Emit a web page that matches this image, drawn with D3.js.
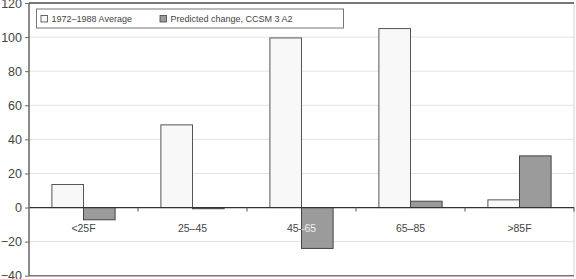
<!DOCTYPE html>
<html><head><meta charset="utf-8">
<script src="https://cdn.jsdelivr.net/npm/d3@7/dist/d3.min.js"></script>
<style>
html,body{margin:0;padding:0;background:#fff;}
svg{display:block;font-family:"Liberation Sans",Arial,sans-serif;}
</style></head>
<body><svg id="c" width="576" height="279"></svg>
<script>
const categories = ["<25F", "25–45", "45–65", "65–85", ">85F"];
const seriesNames = ["1972–1988 Average", "Predicted change, CCSM 3 A2"];
const average = [13.5, 48.5, 99.5, 105, 4.5];
const predicted = [-7.2, -0.7, -24, 3.7, 30.3];
const yTicks = [-40, -20, 0, 20, 40, 60, 80, 100, 120];

const W = 576, H = 279;
const m = {left: 29, right: 2, top: 3, bottom: 3.3};
const svg = d3.select("#c");
const x = d3.scaleBand().domain(categories).range([m.left, W - m.right]).paddingInner(0).paddingOuter(0);
const y = d3.scaleLinear().domain([-40, 120]).range([H - m.bottom, m.top]);
const bw = x.bandwidth() * 0.29;

// gridlines
svg.append("g").selectAll("line").data(yTicks.filter(d => d !== 0 && d !== -40 && d !== 120)).join("line")
  .attr("x1", m.left).attr("x2", W - m.right)
  .attr("y1", d => y(d)).attr("y2", d => y(d))
  .attr("stroke", "#e2e2e2").attr("stroke-width", 1);

// frame right
svg.append("line").attr("x1", W - m.right).attr("x2", W - m.right).attr("y1", y(120)).attr("y2", y(-40))
  .attr("stroke", "#d4d4d4").attr("stroke-width", 1);

// y axis
const yAxis = d3.axisLeft(y).tickValues(yTicks).tickSize(4).tickPadding(3)
  .tickFormat(d => d < 0 ? "−" + Math.abs(d) : d);
const ga = svg.append("g").attr("transform", `translate(${m.left},0)`).call(yAxis);
ga.select(".domain").remove();
ga.selectAll(".tick line").attr("stroke", "#666");
ga.selectAll("text").attr("fill", "#444").style("font-size", "12.5px");

// category labels
const labG = svg.append("g");
labG.selectAll("text").data(categories).join("text")
  .attr("x", d => x(d) + x.bandwidth() / 2).attr("y", y(0) + 24)
  .attr("text-anchor", "middle").attr("fill", "#444").style("font-size", "10.5px")
  .text(d => d);

// bars
const groups = categories.map((c, i) => ({c, i}));
svg.append("g").selectAll("rect").data(groups).join("rect")
  .attr("x", d => x(d.c) + x.bandwidth() / 2 - bw)
  .attr("y", d => y(Math.max(0, average[d.i])))
  .attr("width", bw)
  .attr("height", d => Math.abs(y(average[d.i]) - y(0)))
  .attr("fill", "#f8f8f8").attr("stroke", "#555").attr("stroke-width", 1);

svg.append("g").selectAll("rect").data(groups).join("rect")
  .attr("x", d => x(d.c) + x.bandwidth() / 2)
  .attr("y", d => y(Math.max(0, predicted[d.i])))
  .attr("width", bw)
  .attr("height", d => Math.abs(y(predicted[d.i]) - y(0)))
  .attr("fill", "#9b9b9b").attr("stroke", "#444").attr("stroke-width", 1);

// labels light over gray bars
const defs = svg.append("defs");
const cp = defs.append("clipPath").attr("id", "barclip");
cp.selectAll("rect").data(groups).join("rect")
  .attr("x", d => x(d.c) + x.bandwidth() / 2)
  .attr("y", d => y(Math.max(0, predicted[d.i])))
  .attr("width", bw)
  .attr("height", d => Math.abs(y(predicted[d.i]) - y(0)));
svg.append("g").attr("clip-path", "url(#barclip)").selectAll("text").data(categories).join("text")
  .attr("x", d => x(d) + x.bandwidth() / 2).attr("y", y(0) + 24)
  .attr("text-anchor", "middle").attr("fill", "#eee").style("font-size", "10.5px")
  .text(d => d);

// zero line
svg.append("line").attr("x1", m.left).attr("x2", W - m.right).attr("y1", y(0)).attr("y2", y(0))
  .attr("stroke", "#333").attr("stroke-width", 1.3);
// category tick marks
svg.append("g").selectAll("line").data(categories.slice(1).concat(["__end"])).join("line")
  .attr("x1", d => d === "__end" ? W - m.right : x(d)).attr("x2", d => d === "__end" ? W - m.right : x(d))
  .attr("y1", y(0)).attr("y2", y(0) + 4)
  .attr("stroke", "#555").attr("stroke-width", 1);

// top & bottom & left
svg.append("line").attr("x1", m.left).attr("x2", W - m.right).attr("y1", y(120)).attr("y2", y(120))
  .attr("stroke", "#777").attr("stroke-width", 2);
svg.append("line").attr("x1", m.left).attr("x2", W - m.right).attr("y1", y(-40)).attr("y2", y(-40))
  .attr("stroke", "#777").attr("stroke-width", 1.5);
svg.append("line").attr("x1", m.left).attr("x2", m.left).attr("y1", y(120)).attr("y2", y(-40))
  .attr("stroke", "#666").attr("stroke-width", 1.5);

// legend
const lg = svg.append("g");
lg.append("rect").attr("x", 36.5).attr("y", 9).attr("width", 307).attr("height", 19)
  .attr("fill", "#fff").attr("stroke", "#777").attr("stroke-width", 1);
const legX = [41, 160];
const legFill = ["#f8f8f8", "#9b9b9b"];
seriesNames.forEach((s, i) => {
  lg.append("rect").attr("x", legX[i]).attr("y", 15.5).attr("width", 6.5).attr("height", 6.5)
    .attr("fill", legFill[i]).attr("stroke", "#444").attr("stroke-width", 0.8);
  lg.append("text").attr("x", legX[i] + 10.5).attr("y", 22).attr("fill", "#444")
    .style("font-size", "9px").text(s);
});
</script></body></html>
